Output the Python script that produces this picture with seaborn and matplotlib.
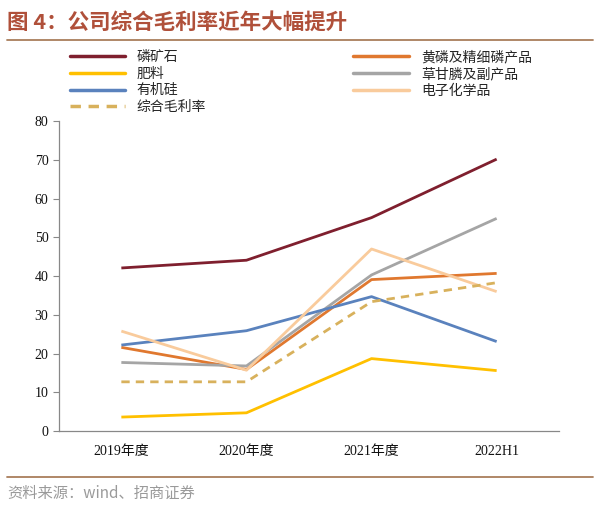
import numpy as np
import pandas as pd
import matplotlib
matplotlib.use("Agg")
import matplotlib.pyplot as plt
import seaborn as sns
from matplotlib.lines import Line2D

PERIODS = ["2019年度", "2020年度", "2021年度", "2022H1"]

PHOSPHATE_ROCK = [42.1, 44.1, 55.1, 70.2]
YELLOW_PHOSPHORUS = [21.6, 15.9, 39.1, 40.7]
FERTILIZER = [3.6, 4.7, 18.7, 15.6]
GLYPHOSATE = [17.7, 16.8, 40.3, 54.9]
SILICONE = [22.2, 25.9, 34.7, 23.1]
ELECTRONIC_CHEM = [25.8, 15.7, 47.0, 36.0]
TOTAL_MARGIN = [12.7, 12.7, 33.4, 38.3]

SERIES = {
    "磷矿石": PHOSPHATE_ROCK,
    "黄磷及精细磷产品": YELLOW_PHOSPHORUS,
    "肥料": FERTILIZER,
    "草甘膦及副产品": GLYPHOSATE,
    "有机硅": SILICONE,
    "电子化学品": ELECTRONIC_CHEM,
    "综合毛利率": TOTAL_MARGIN,
}

COLORS = {
    "磷矿石": "#7f1f2e",
    "黄磷及精细磷产品": "#e0782f",
    "肥料": "#ffc000",
    "草甘膦及副产品": "#a5a5a5",
    "有机硅": "#5a82bd",
    "电子化学品": "#f9cb9c",
    "综合毛利率": "#d8b15c",
}

LEGEND_ORDER = ["磷矿石", "肥料", "有机硅", "综合毛利率",
                "黄磷及精细磷产品", "草甘膦及副产品", "电子化学品"]

sns.set_theme(style="white")
plt.rcParams["font.family"] = ["Liberation Serif", "Noto Sans CJK SC"]
plt.rcParams["axes.unicode_minus"] = False

rows = []
for name, values in SERIES.items():
    for period, v in zip(PERIODS, values):
        rows.append({"period": period, "value": v, "series": name})
df = pd.DataFrame(rows)

fig = plt.figure(figsize=(6.0, 5.05), dpi=100)
ax = fig.add_axes([0.098, 0.1465, 0.834, 0.6135])

dashes = {name: "" for name in SERIES}
dashes["综合毛利率"] = (3, 2.2)
sns.lineplot(
    data=df, x="period", y="value", hue="series", style="series",
    palette=COLORS, dashes=dashes, linewidth=2.0, sort=False,
    legend=False, ax=ax,
)
for line in ax.lines:
    line.set_solid_capstyle("butt")

ax.set_xlim(-0.5, len(PERIODS) - 0.5)
ax.set_ylim(0, 80)
ax.set_yticks(np.arange(0, 81, 10))
ax.set_xticks(range(len(PERIODS)))
ax.set_xticklabels(PERIODS)
ax.set_xticks(np.arange(-0.5, len(PERIODS)), minor=True)
ax.tick_params(axis="x", which="major", length=0, pad=10, labelsize=10, colors="#111111")
ax.tick_params(axis="x", which="minor", length=4, width=0.8, color="#888888", direction="out")
ax.tick_params(axis="y", length=4, width=0.8, color="#888888", direction="out",
               labelsize=10, labelcolor="#111111", left=True)
ax.set_xlabel("")
ax.set_ylabel("")
for side in ["top", "right"]:
    ax.spines[side].set_visible(False)
for side in ["left", "bottom"]:
    ax.spines[side].set_color("#888888")
    ax.spines[side].set_linewidth(0.9)

handles = []
for name in LEGEND_ORDER:
    ls = (0, (3, 2.2)) if name == "综合毛利率" else "-"
    handles.append(Line2D([0], [0], color=COLORS[name], lw=2.5, ls=ls))
fig.legend(
    handles, LEGEND_ORDER, ncol=2, loc="upper left", bbox_to_anchor=(0.095, 0.925),
    frameon=False, fontsize=10, handlelength=4.0, handletextpad=0.85,
    columnspacing=10.6, labelspacing=0.26,
)

fig.text(0.012, 0.955, "图 4：公司综合毛利率近年大幅提升", fontsize=15.5, color="#b0503a",
         fontweight="bold", family=["Noto Sans CJK SC", "DejaVu Sans"], va="center")
fig.add_artist(Line2D([0.012, 0.988], [0.921, 0.921], color="#a97e5c", lw=1.3))
fig.add_artist(Line2D([0.012, 0.988], [0.056, 0.056], color="#a97e5c", lw=1.3))
fig.text(0.012, 0.024, "资料来源：wind、招商证券", fontsize=11, color="#9a9a9a",
         family=["Noto Sans CJK SC", "DejaVu Sans"], va="center")

fig.savefig("out.png", dpi=100, facecolor="white")
